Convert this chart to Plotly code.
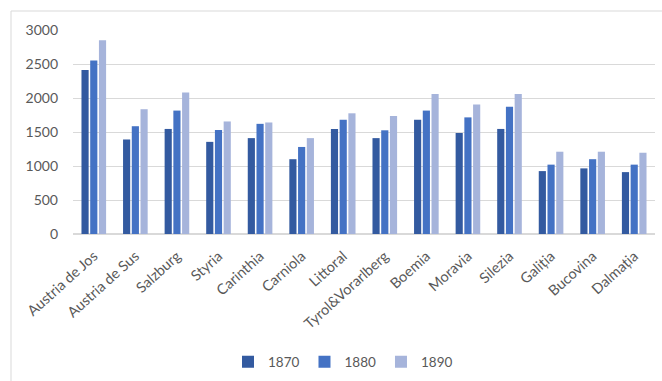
import plotly.graph_objects as go

regions = ["Austria de Jos", "Austria de Sus", "Salzburg", "Styria", "Carinthia",
           "Carniola", "Littoral", "Tyrol&Vorarlberg", "Boemia", "Moravia",
           "Silezia", "Galiția", "Bucovina", "Dalmația"]
v1870 = [2410, 1390, 1545, 1355, 1410, 1100, 1545, 1410, 1680, 1485, 1545, 925, 965, 910]
v1880 = [2550, 1585, 1815, 1530, 1620, 1280, 1680, 1525, 1815, 1715, 1870, 1020, 1100, 1020]
v1890 = [2850, 1835, 2080, 1655, 1640, 1410, 1775, 1735, 2060, 1905, 2060, 1210, 1210, 1195]
years = ["1870", "1880", "1890"]
colors = ["#335AA0", "#4472C4", "#A6B4DB"]

FONT = "Lato"
GREY = "#595959"

fig = go.Figure()
for name, vals, col in zip(years, [v1870, v1880, v1890], colors):
    fig.add_trace(go.Bar(name=name, x=regions, y=vals, marker_color=col,
                         marker_line_width=0))

# outer chart frame (cropped on right and bottom)
L, R, T, B = 73, 7, 30, 147
W, H = 662, 381
pw, ph = W - L - R, H - T - B
def px(x):
    return (x - L) / pw
def py(y):
    return (H - B - y) / ph

fig.add_shape(type="line", xref="paper", yref="paper", x0=px(11), x1=px(11),
              y0=py(11), y1=py(390), line=dict(color="#D9D9D9", width=1))
fig.add_shape(type="line", xref="paper", yref="paper", x0=px(11), x1=px(670),
              y0=py(11), y1=py(11), line=dict(color="#D9D9D9", width=1))

fig.update_layout(
    width=W, height=H,
    margin=dict(l=L, r=R, t=T, b=B, autoexpand=False),
    paper_bgcolor="white", plot_bgcolor="white",
    barmode="group", bargap=0.37, bargroupgap=0.18,
    font=dict(family=FONT, size=13, color=GREY),
    showlegend=True,
    legend=dict(orientation="h", xref="container", yref="container",
                x=343 / W, xanchor="center", y=(H - 362) / H,
                yanchor="middle", font=dict(size=13.5, color=GREY),
                itemwidth=30, traceorder="normal"),
)
fig.update_yaxes(range=[0, 3000], dtick=500, showgrid=True, gridcolor="#D9D9D9",
                 gridwidth=1, zeroline=True, zerolinecolor="#D9D9D9",
                 showline=False, ticks="", ticklabelstandoff=14, automargin=False,
                 tickfont=dict(size=14, color=GREY))
fig.update_xaxes(tickangle=-42, showline=False, ticks="", automargin=False,
                 tickfont=dict(size=14.5, color=GREY), ticklabelshift=0,
                 ticklabelstandoff=10)

fig.write_html("out.html")
